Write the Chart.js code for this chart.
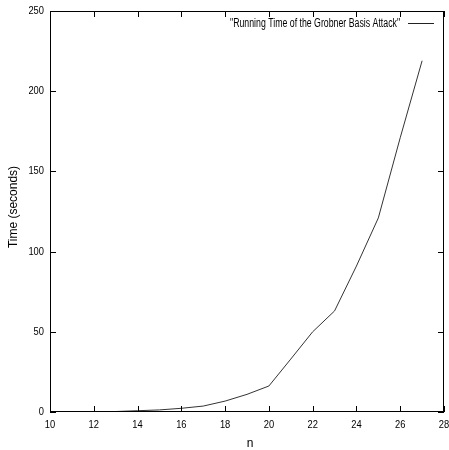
<!DOCTYPE html>
<html>
<head>
<meta charset="utf-8">
<script src="https://cdn.jsdelivr.net/npm/chart.js@4.4.0/dist/chart.umd.min.js"></script>
<style>
  html, body { margin: 0; padding: 0; background: #fff; }
  #wrap { width: 449px; height: 450px; }
</style>
</head>
<body>
<div id="wrap"><canvas id="timeChart" width="449" height="450"></canvas></div>
<script>
// data
const nValues = [10, 11, 12, 13, 14, 15, 16, 17, 18, 19, 20, 21, 22, 23, 24, 25, 26, 27];
const timeValues = [0.02, 0.05, 0.1, 0.3, 0.8, 1.3, 2.3, 3.7, 6.8, 11, 16.2, 33, 50, 63, 91, 121, 171, 219];
const seriesLabel = '"Running Time of the Grobner Basis Attack"';
const xTitle = 'n';
const yTitle = 'Time (seconds)';

const fontFam = "'Liberation Sans', Arial, sans-serif";

// draw text squeezed horizontally (the original uses a narrow font)
function narrowText(ctx, txt, x, y, align, squeeze) {
    ctx.save();
    ctx.translate(x, y);
    ctx.scale(squeeze, 1);
    ctx.textAlign = align;
    ctx.fillText(txt, 0, 0);
    ctx.restore();
}

// gnuplot style frame: box + ticks pointing inwards on all sides, key top right
const framePlugin = {
    id: 'frame',
    afterDraw(chart) {
        const ctx = chart.ctx;
        const a = chart.chartArea;
        const xs = chart.scales.x;
        const ys = chart.scales.y;
        const len = 6;
        ctx.save();
        ctx.strokeStyle = '#000';
        ctx.lineWidth = 1;
        ctx.strokeRect(a.left + 0.5, a.top + 0.5, a.right - a.left - 1, a.bottom - a.top - 1);
        ctx.beginPath();
        xs.ticks.forEach(function(t) {
            let px = Math.round(xs.getPixelForValue(t.value)) + 0.5;
            ctx.moveTo(px, a.bottom);
            ctx.lineTo(px, a.bottom - len);
            ctx.moveTo(px, a.top);
            ctx.lineTo(px, a.top + len);
        });
        ys.ticks.forEach(function(t) {
            let py = Math.round(ys.getPixelForValue(t.value)) + 0.5;
            ctx.moveTo(a.left, py);
            ctx.lineTo(a.left + len, py);
            ctx.moveTo(a.right, py);
            ctx.lineTo(a.right - len, py);
        });
        ctx.stroke();

        ctx.fillStyle = '#000';
        ctx.textBaseline = 'middle';

        // tick labels
        ctx.font = '11px ' + fontFam;
        xs.ticks.forEach(function(t) {
            narrowText(ctx, String(t.value), xs.getPixelForValue(t.value), a.bottom + 13, 'center', 0.85);
        });
        ys.ticks.forEach(function(t) {
            narrowText(ctx, String(t.value), a.left - 6, ys.getPixelForValue(t.value), 'right', 0.85);
        });

        // axis titles
        ctx.font = '12px ' + fontFam;
        narrowText(ctx, xTitle, (a.left + a.right) / 2 + 3, a.bottom + 32, 'center', 1);
        ctx.save();
        ctx.translate(14, 207);
        ctx.rotate(-Math.PI / 2);
        ctx.textAlign = 'center';
        ctx.fillText(yTitle, 0, 0);
        ctx.restore();

        // key
        const ky = a.top + 12.5;
        narrowText(ctx, seriesLabel, a.right - 44, ky, 'right', 0.73);
        ctx.strokeStyle = '#222';
        ctx.beginPath();
        ctx.moveTo(a.right - 36, ky);
        ctx.lineTo(a.right - 10, ky);
        ctx.stroke();
        ctx.restore();
    }
};

new Chart(document.getElementById('timeChart').getContext('2d'), {
    type: 'line',
    data: {
        datasets: [{
            label: seriesLabel,
            data: nValues.map(function(n, i) { return {x: n, y: timeValues[i]}; }),
            borderColor: '#333',
            borderWidth: 1,
            pointRadius: 0,
            fill: false,
            tension: 0
        }]
    },
    options: {
        responsive: false,
        animation: false,
        layout: { padding: { top: 11, right: 5, left: 0, bottom: 0 } },
        plugins: {
            legend: { display: false },
            tooltip: { enabled: false }
        },
        scales: {
            x: {
                type: 'linear',
                min: 10,
                max: 28,
                grid: { display: false },
                border: { display: false },
                ticks: { stepSize: 2, display: false },
                afterFit: function(scale) {
                    scale.height = 38;
                    scale.paddingLeft = 0;
                    scale.paddingRight = 0;
                }
            },
            y: {
                min: 0,
                max: 250,
                grid: { display: false },
                border: { display: false },
                ticks: { stepSize: 50, display: false },
                afterFit: function(scale) {
                    scale.width = 50;
                    scale.paddingTop = 0;
                    scale.paddingBottom = 0;
                }
            }
        }
    },
    plugins: [framePlugin]
});
</script>
</body>
</html>
